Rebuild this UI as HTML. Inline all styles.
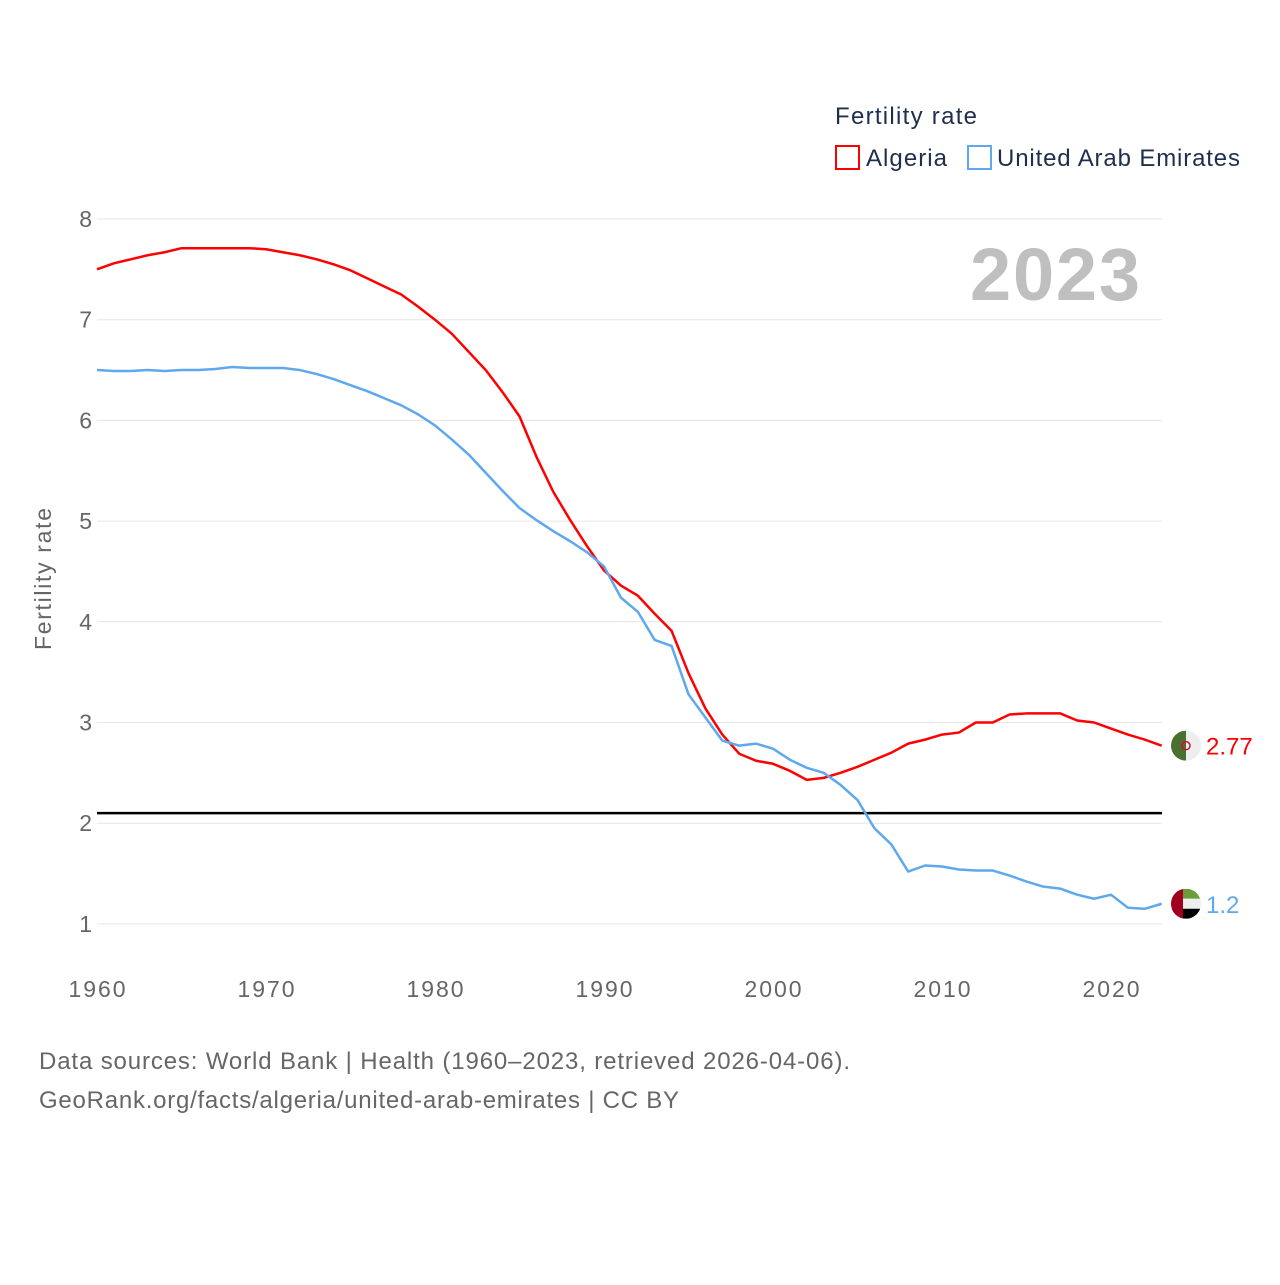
<!DOCTYPE html>
<html><head><meta charset="utf-8"><style>
body{margin:0;background:#fff;font-family:"Liberation Sans",sans-serif}
</style></head><body>
<svg id="chart" width="1280" height="1280" xmlns="http://www.w3.org/2000/svg" font-family="Liberation Sans, sans-serif">
<g id="grid"></g>
<g id="yticks"></g>
<g id="xticks"></g>
<text transform="translate(51,579) rotate(-90)" text-anchor="middle" font-size="23" fill="#666" textLength="142">Fertility rate</text>
<text x="1140" y="300" text-anchor="end" font-size="74" font-weight="bold" fill="#bfbfbf" textLength="170">2023</text>
<g id="series"></g>
<text x="835" y="124" font-size="24" fill="#1e2f4d" textLength="142">Fertility rate</text>
<rect x="836" y="146" width="23" height="23" fill="none" stroke="#f00" stroke-width="2"/>
<text x="866" y="166" font-size="24" fill="#1e2f4d" textLength="81">Algeria</text>
<rect x="968" y="146" width="23" height="23" fill="none" stroke="#5fa8ee" stroke-width="2"/>
<text x="997" y="166" font-size="24" fill="#1e2f4d" textLength="243">United Arab Emirates</text>
<text x="39" y="1069" font-size="24" fill="#666" textLength="811">Data sources: World Bank | Health (1960–2023, retrieved 2026-04-06).</text>
<text x="39" y="1108" font-size="24" fill="#666" textLength="640">GeoRank.org/facts/algeria/united-arab-emirates | CC BY</text>
</svg>
<script>
const years=[];for(let y=1960;y<=2023;y++)years.push(y);
const algeria=[7.50,7.56,7.60,7.64,7.67,7.71,7.71,7.71,7.71,7.71,7.70,7.67,7.64,7.60,7.55,7.49,7.41,7.33,7.25,7.13,7.00,6.86,6.68,6.50,6.28,6.04,5.64,5.29,5.01,4.75,4.51,4.36,4.26,4.08,3.91,3.49,3.14,2.88,2.69,2.62,2.59,2.52,2.43,2.45,2.50,2.56,2.63,2.70,2.79,2.83,2.88,2.90,3.00,3.00,3.08,3.09,3.09,3.09,3.02,3.00,2.94,2.88,2.83,2.77];
const uae=[6.50,6.49,6.49,6.50,6.49,6.50,6.50,6.51,6.53,6.52,6.52,6.52,6.50,6.46,6.41,6.35,6.29,6.22,6.15,6.06,5.95,5.81,5.66,5.48,5.30,5.13,5.01,4.90,4.80,4.69,4.55,4.24,4.10,3.82,3.76,3.28,3.05,2.82,2.77,2.79,2.74,2.63,2.55,2.50,2.38,2.23,1.95,1.79,1.52,1.58,1.57,1.54,1.53,1.53,1.48,1.42,1.37,1.35,1.29,1.25,1.29,1.16,1.15,1.20];
const yTicks=[1,2,3,4,5,6,7,8];
const xTicks=[1960,1970,1980,1990,2000,2010,2020];
const replacement=2.1;
const NS="http://www.w3.org/2000/svg";
const X=y=>97+(y-1960)*16.9, Y=v=>219+(8-v)*100.7;
function mk(t,a,p){const e=document.createElementNS(NS,t);for(const k in a)e.setAttribute(k,a[k]);p.appendChild(e);return e;}
const svg=document.getElementById('chart'),grid=document.getElementById('grid'),yt=document.getElementById('yticks'),xt=document.getElementById('xticks'),ser=document.getElementById('series');
yTicks.forEach(v=>{
 const l=mk('line',{x1:97,x2:1162,y1:Y(v),y2:Y(v),stroke:'#e6e6e6','stroke-width':1},grid);
 
 
 const t=mk('text',{x:92,y:Y(v)+8,'text-anchor':'end','font-size':23,fill:'#666'},yt);t.textContent=v;
 
 
});
xTicks.forEach(v=>{
 const t=mk('text',{x:X(v),y:997,'text-anchor':'middle','font-size':23,fill:'#666',textLength:57},xt);t.textContent=v;
 
 
});
const rl=mk('line',{x1:97,x2:1162,y1:Y(replacement),y2:Y(replacement),stroke:'#000','stroke-width':2.5},ser);


const defs=mk('defs',{},svg);
function line(d,c,n){
 const p=mk('polyline',{points:d.map((v,i)=>X(years[i])+','+Y(v)).join(' '),fill:'none',stroke:c,'stroke-width':2.5,'stroke-linejoin':'round'},ser);
 
 
 const last=d[d.length-1],cy=Y(last),cx=1186,r=15;
 const cp=mk('clipPath',{id:'clip-'+n},defs);mk('circle',{cx:cx,cy:cy,r:r},cp);
 const g=mk('g',{'clip-path':'url(#clip-'+n+')'},ser);
 
 
 if(n==='algeria'){
  mk('rect',{x:cx-r,y:cy-r,width:r,height:2*r,fill:'#4a7030'},g);
  mk('rect',{x:cx,y:cy-r,width:r,height:2*r,fill:'#eeeeee'},g);
  mk('circle',{cx:cx,cy:cy,r:4,fill:'none',stroke:'#d21034','stroke-width':1.5},g);
 }else{
  mk('rect',{x:cx-r,y:cy-r,width:2*r,height:10,fill:'#6a9c3c'},g);
  mk('rect',{x:cx-r,y:cy-r+10,width:2*r,height:10,fill:'#eeeeee'},g);
  mk('rect',{x:cx-r,y:cy-r+20,width:2*r,height:10,fill:'#000'},g);
  mk('rect',{x:cx-r,y:cy-r,width:12,height:2*r,fill:'#a0001e'},g);
 }
 const t=mk('text',{x:1206,y:cy+9,'font-size':24,fill:c},ser);t.textContent=last;
 
 
}
line(algeria,'#f00','algeria');
line(uae,'#5fa8ee','uae');
</script>
</body></html>
